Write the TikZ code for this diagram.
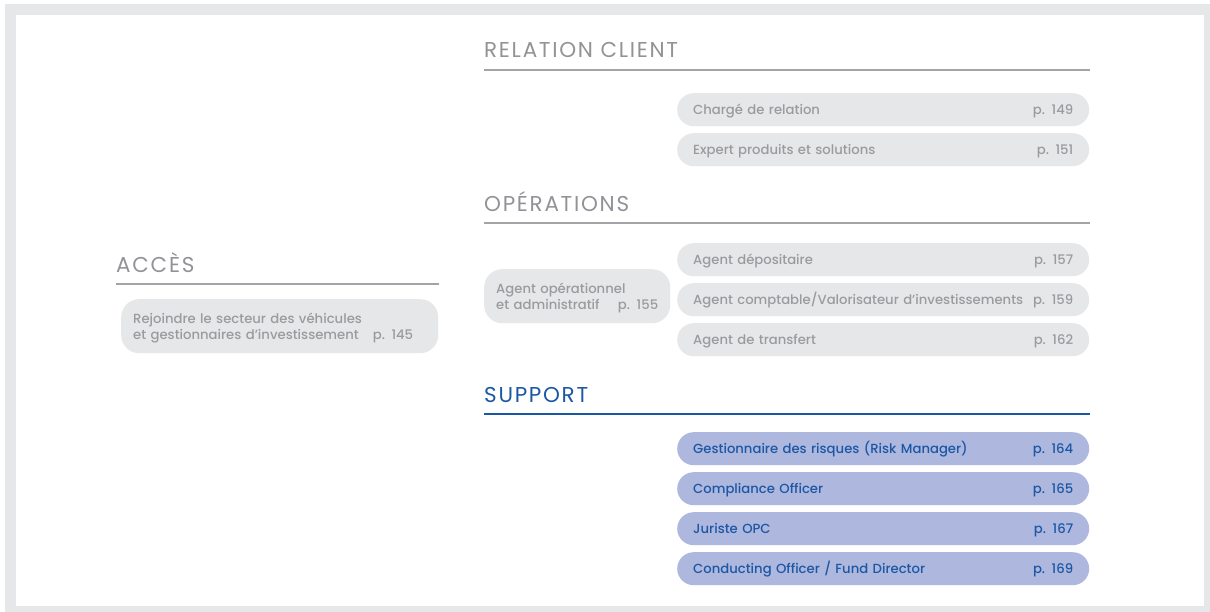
\documentclass[tikz,border=0pt]{standalone}
\usepackage{fontspec}
\setmainfont{Poppins}
\newfontfamily\pillfont{Poppins Medium}
\newfontfamily\headfont{Poppins}[LetterSpace=8]
\definecolor{framegray}{HTML}{E6E7E8}
\definecolor{pillgray}{HTML}{E6E7E8}
\definecolor{txtgray}{HTML}{9A9B9E}
\definecolor{headgray}{HTML}{919396}
\definecolor{rulegray}{HTML}{A2A4A7}
\definecolor{supblue}{HTML}{1C57A5}
\definecolor{suplav}{HTML}{AEB7DD}
\newcommand{\pfill}{\hskip 0pt plus 1filll\relax}
\begin{document}
\begin{tikzpicture}[x=1pt,y=-1pt,
  head/.style={anchor=base west, inner sep=0pt, text=headgray,
    font=\headfont\fontsize{21.5}{24}\selectfont},
  sep/.style={rulegray, line width=2pt},
  pill/.style={anchor=north west, fill=pillgray, text=txtgray,
    rounded corners=16.5pt, minimum height=33pt, text width=380pt,
    inner xsep=16pt, inner ysep=0pt, align=left,
    text height=11pt, text depth=2pt, font=\pillfont\fontsize{13.2}{16}\selectfont},
  twoline/.style={anchor=north west, fill=pillgray, text=txtgray,
    rounded corners=18pt, minimum height=54pt, inner xsep=12pt,
    inner ysep=0pt, align=left, font=\pillfont\fontsize{13.2}{16.5}\selectfont,
    execute at begin node={\rule{0pt}{14pt}}},
  suppill/.style={pill, fill=suplav, text=supblue}]
  \useasboundingbox (0,0) rectangle (1210,612);
  \fill[framegray] (5,4) rectangle (1210,612);
  \fill[white] (16,15) rectangle (1204,606);

  \node[head] (acces) at (116,273) {ACCÈS};
  \draw[sep] (116,284) -- (439,284);
  \node[twoline, minimum width=317pt, text width=293pt] (rejoindre) at (121,299)
    {Rejoindre le secteur des véhicules\\et gestionnaires d’investissement\hspace{14pt}p. 145};

  \node[head] (relation) at (484,58) {RELATION CLIENT};
  \draw[sep] (484,70.5) -- (1090,70.5);
  \node[pill] (charge) at (677,93) {Chargé de relation\pfill p. 149};
  \node[pill] (expert) at (677,133) {Expert produits et solutions\pfill p. 151};

  \node[head] (operations) at (484,212) {OPÉRATIONS};
  \draw[sep] (484,223.5) -- (1090,223.5);
  \node[twoline, minimum width=186pt, text width=162pt] (agentop) at (484,269)
    {Agent opérationnel\\et administratif\pfill p. 155};
  \node[pill] (depositaire) at (677,243) {Agent dépositaire\pfill p. 157};
  \node[pill] (comptable) at (677,283) {Agent comptable/Valorisateur d’investissements\pfill p. 159};
  \node[pill] (transfert) at (677,323) {Agent de transfert\pfill p. 162};

  \node[head, text=supblue] (support) at (484,402) {SUPPORT};
  \draw[sep, supblue] (484,413.5) -- (1090,413.5);
  \node[suppill] (risques) at (677,432) {Gestionnaire des risques (Risk Manager)\pfill p. 164};
  \node[suppill] (compliance) at (677,472) {Compliance Officer\pfill p. 165};
  \node[suppill] (juriste) at (677,512) {Juriste OPC\pfill p. 167};
  \node[suppill] (conducting) at (677,552) {Conducting Officer / Fund Director\pfill p. 169};
\end{tikzpicture}
\end{document}
